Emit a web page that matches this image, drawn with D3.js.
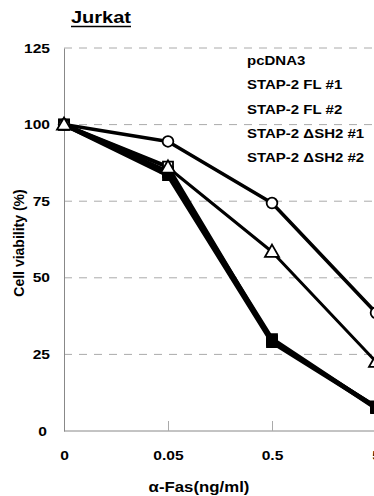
<!DOCTYPE html>
<html>
<head>
<meta charset="utf-8">
<script src="https://cdn.jsdelivr.net/npm/d3@7"></script>
<style>
  body { margin: 0; background: #fff; }
  text { font-family: "Liberation Sans", Arial, sans-serif; font-weight: bold; fill: #000; }
</style>
</head>
<body>
<script>
// doses on the x axis (categorical)
const doses = ['0', '0.05', '0.5', '5']
const yTicks = [0, 25, 50, 75, 100, 125]

const legendLabels = ['pcDNA3', 'STAP-2 FL #1', 'STAP-2 FL #2', 'STAP-2 \u0394SH2 #1', 'STAP-2 \u0394SH2 #2']

// cell viability (%) per dose
const pcDNA3 = [100, 94.5, 74.4, 38.6]
const fl1 = [100, 83.5, 29, 7.8]
const fl2 = [100, 84.5, 30, 7.5]
const dsh1 = [100, 86, 58.5, 22.6]
const dsh2 = [100, 86.3, 29.5, 8]

const series = [
  { name: legendLabels[4], values: dsh2, marker: 'square', fill: '#fff', lw: 3.5 },
  { name: legendLabels[1], values: fl1, marker: 'square', fill: '#000', lw: 4.5 },
  { name: legendLabels[2], values: fl2, marker: 'square', fill: '#000', lw: 4.5 },
  { name: legendLabels[0], values: pcDNA3, marker: 'circle', fill: '#fff', lw: 3.5 },
  { name: legendLabels[3], values: dsh1, marker: 'triangle', fill: '#fff', lw: 3 }
]

const width = 374
const height = 496
const sx = 1.2 // the original text is drawn a bit wide

const svg = d3.select('body')
  .append('svg')
  .attr('width', width)
  .attr('height', height)

const x = d3.scalePoint()
  .domain(doses)
  .range([64, 376])

const y = d3.scaleLinear()
  .domain([0, 125])
  .range([431, 48])

// dashed gridlines
svg.append('g')
  .selectAll('line')
  .data(yTicks.filter(d => d > 0))
  .enter()
  .append('line')
  .attr('x1', 64)
  .attr('x2', width)
  .attr('y1', d => y(d))
  .attr('y2', d => y(d))
  .attr('stroke', '#aaa')
  .attr('stroke-width', 1)
  .attr('stroke-dasharray', '8,7')

// y axis
const yAxis = svg.append('g')
  .attr('transform', 'translate(64,0)')
  .call(d3.axisLeft(y).tickValues(yTicks).tickSize(0))
yAxis.select('.domain').attr('stroke', '#888')
yAxis.selectAll('text')
  .style('font-size', '13px')
  .attr('x', d => (d === 0 ? -17 : -14) / sx)
  .attr('transform', `scale(${sx},1)`)

// x axis
const xAxis = svg.append('g')
  .attr('transform', 'translate(0,431)')
  .call(d3.axisBottom(x).tickSize(0).tickPadding(20))
xAxis.select('.domain').attr('stroke', '#888').attr('d', `M64,0H${width}`)
xAxis.selectAll('text')
  .style('font-size', '13px')
  .attr('transform', `scale(${sx},1)`)
xAxis.selectAll('.tick line')
  .attr('y2', d => d === '0' ? 0 : -10)
  .attr('stroke', '#aaa')

// lines
const line = d3.line()
  .x((d, i) => x(doses[i]))
  .y(d => y(d))

svg.append('g')
  .selectAll('path')
  .data(series)
  .enter()
  .append('path')
  .attr('d', d => line(d.values))
  .attr('fill', 'none')
  .attr('stroke', '#000')
  .attr('stroke-width', d => d.lw)
  .attr('stroke-linejoin', 'round')

// markers
const symbolType = { square: d3.symbolSquare, circle: d3.symbolCircle, triangle: d3.symbolTriangle }
const symbolSize = { square: 100, circle: 90, triangle: 85 }

series.forEach(s => {
  svg.append('g')
    .selectAll('path')
    .data(s.values)
    .enter()
    .append('path')
    .attr('transform', (d, i) => `translate(${x(doses[i])},${y(d) + (s.marker === 'triangle' ? 1 : 0)})`)
    .attr('d', d3.symbol().type(symbolType[s.marker]).size(symbolSize[s.marker]))
    .attr('fill', s.fill)
    .attr('stroke', '#000')
    .attr('stroke-width', 1.8)
})

// legend (text only)
svg.append('g')
  .attr('transform', `translate(247,0) scale(${sx},1)`)
  .selectAll('text')
  .data(legendLabels)
  .enter()
  .append('text')
  .attr('x', 0)
  .attr('y', (d, i) => 65 + i * 24.3)
  .style('font-size', '12.5px')
  .text(d => d)

// title
svg.append('text')
  .attr('transform', 'translate(71,23) scale(1.25,1)')
  .style('font-size', '16px')
  .text('Jurkat')
svg.append('line')
  .attr('x1', 71).attr('x2', 131)
  .attr('y1', 26.5).attr('y2', 26.5)
  .attr('stroke', '#000')
  .attr('stroke-width', 1.5)

// axis titles
svg.append('text')
  .attr('transform', 'translate(24,243) rotate(-90)')
  .attr('text-anchor', 'middle')
  .style('font-size', '14px')
  .text('Cell viability (%)')

svg.append('text')
  .attr('transform', `translate(199,492) scale(${sx},1)`)
  .attr('text-anchor', 'middle')
  .style('font-size', '14px')
  .text('\u03b1-Fas(ng/ml)')
</script>
</body>
</html>
